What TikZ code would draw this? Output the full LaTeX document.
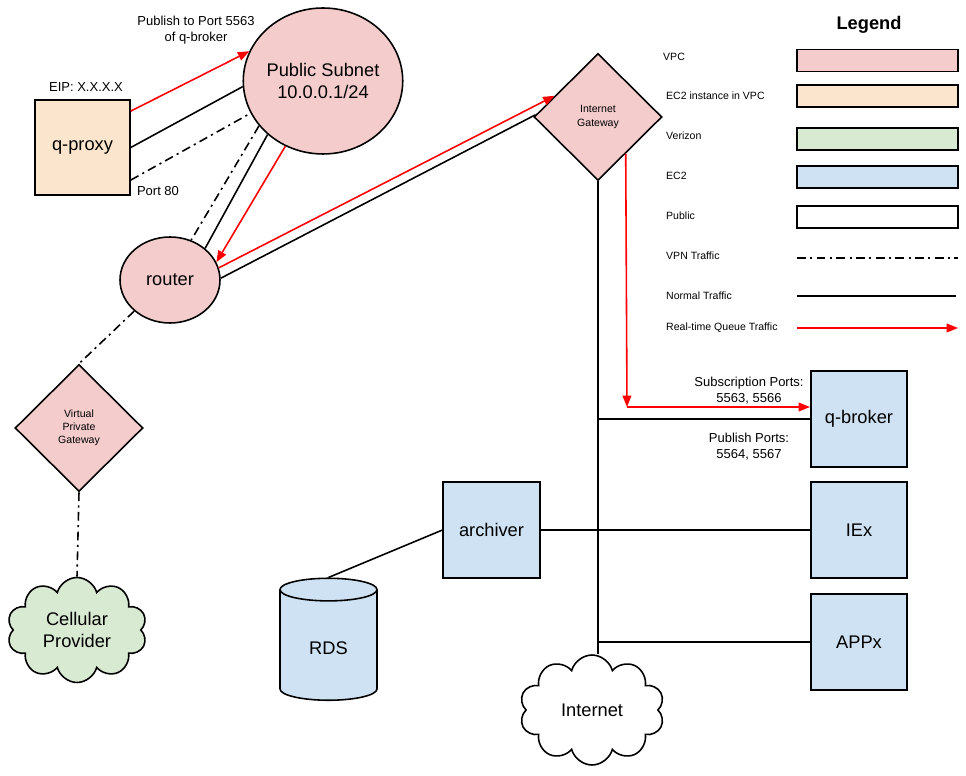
\documentclass[tikz,border=0pt]{standalone}
\usepackage{fontspec}
\setmainfont{Liberation Sans}
\usetikzlibrary{shapes.geometric, shapes.symbols, arrows.meta, positioning, calc}
\definecolor{vpcpink}{RGB}{244,204,204}
\definecolor{ec2vpc}{RGB}{252,229,205}
\definecolor{verizon}{RGB}{217,234,211}
\definecolor{ec2blue}{RGB}{207,226,243}
\definecolor{qred}{RGB}{255,0,0}
\tikzset{
  bigfont/.style={font=\fontsize{10.4}{12.5}\selectfont},
  midfont/.style={font=\fontsize{7.4}{9}\selectfont},
  smallfont/.style={font=\fontsize{6}{7.5}\selectfont},
  ec2box/.style={rectangle, draw, fill=ec2blue, line width=0.9pt,
    minimum width=1.93cm, minimum height=1.92cm, bigfont},
  vpcgate/.style={diamond, draw, fill=vpcpink, line width=0.9pt,
    minimum width=2.56cm, minimum height=2.54cm, inner sep=0pt, align=center, smallfont},
  netcloud/.style={cloud, draw, cloud puffs=10, cloud ignores aspect,
    line width=0.9pt, align=center, bigfont},
  legbox/.style={rectangle, draw, line width=0.9pt, minimum width=3.22cm, minimum height=0.44cm},
  leglabel/.style={anchor=west, smallfont},
  plainline/.style={line width=0.9pt},
  vpnline/.style={line width=0.9pt, dash pattern=on 5pt off 2.5pt on 1.2pt off 2.5pt},
  rtqarrow/.style={line width=0.9pt, draw=qred, -{Triangle[length=6.5pt,width=5pt]}}
}

\begin{document}
\begin{tikzpicture}[x=0.02cm, y=-0.02cm]
  \useasboundingbox (0,0) rectangle (966,776);

  \node[ellipse, draw, fill=vpcpink, line width=0.9pt, minimum width=3.04cm, minimum height=2.92cm,
    inner sep=0pt, align=center, bigfont] (subnet) at (323,81) {Public Subnet\\10.0.0.1/24};
  \node[rectangle, draw, fill=ec2vpc, line width=0.9pt, minimum width=1.9cm, minimum height=1.9cm,
    bigfont] (qproxy) at (82.5,147.5) {q-proxy};
  \node[ellipse, draw, fill=vpcpink, line width=0.9pt, minimum width=2cm, minimum height=1.72cm,
    inner sep=0pt, bigfont] (router) at (170,280) {router};
  \node[vpcgate] (vpg) at (79,428) {Virtual\\Private\\Gateway};
  \node[netcloud, fill=verizon, minimum width=2.8cm, minimum height=2.1cm] (cell) at (77,630) {Cellular\\Provider};
  \node[vpcgate] (igw) at (598,117) {Internet\\Gateway};

  \node[ec2box] (qbroker) at (859,419) {q-broker};
  \node[ec2box] (iex) at (859,530) {IEx};
  \node[ec2box] (appx) at (859,642) {APPx};
  \node[ec2box] (archiver) at (491.5,530) {archiver};
  \node[cylinder, shape border rotate=90, draw, fill=ec2blue, line width=0.9pt, aspect=0.45,
    minimum width=1.94cm, minimum height=2.44cm, bigfont] (rds) at (328.5,648) {RDS};
  \node[netcloud, fill=white, minimum width=2.9cm, minimum height=2.2cm] (inet) at (592,710) {Internet};

  \node[midfont, align=center] (pubtxt) at (196,30) {Publish to Port 5563\\of q-broker};
  \node[midfont] (eip) at (86,87) {EIP: X.X.X.X};
  \node[midfont] (port80) at (158,191) {Port 80};
  \node[midfont, align=center] (subtxt) at (749,391) {Subscription Ports:\\5563, 5566};
  \node[midfont, align=center] (pubports) at (749,447) {Publish Ports:\\5564, 5567};

  \draw[rtqarrow] (qproxy.37) -- (subnet.158);
  \draw[plainline] (qproxy.east) -- (subnet.184);
  \draw[vpnline] (qproxy.-34) -- (subnet.204);
  \draw[vpnline] (subnet.215) -- (router.62);
  \draw[plainline] (subnet.224) -- (router.42);
  \draw[rtqarrow] (subnet.240) -- (router.21);
  \draw[rtqarrow] (router.14) -- (igw.154);
  \draw[plainline] (router.2) -- (igw.178);
  \draw[vpnline] (router.221) -- (vpg.north);
  \draw[vpnline] (vpg.south) -- (cell.north);

  \coordinate (rtbend) at (627,407);
  \draw[rtqarrow] (igw.-53) -- (rtbend);
  \draw[rtqarrow] (rtbend) -- (rtbend -| qbroker.west);
  \draw[plainline] (igw.south) -- (igw.south |- inet.north);
  \draw[plainline] (igw.south |- qbroker.west) -- (qbroker.west);
  \draw[plainline] (archiver.east) -- (iex.west);
  \draw[plainline] (igw.south |- appx.west) -- (appx.west);
  \draw[plainline] (archiver.west) -- (rds.top);

  \node[bigfont, font=\fontsize{10.4}{12.5}\selectfont\bfseries] (legend) at (869,25) {Legend};
  \node[legbox, fill=vpcpink] (lvpc) at (877.5,60.5) {};
  \node[legbox, fill=ec2vpc] (lec2vpc) at (877.5,96) {};
  \node[legbox, fill=verizon] (lverizon) at (877.5,139) {};
  \node[legbox, fill=ec2blue] (lec2) at (877.5,177) {};
  \node[legbox, fill=white] (lpublic) at (877.5,217) {};
  \coordinate (lvpna) at (797,258);
  \coordinate (lvpnb) at (958,258);
  \coordinate (lnorma) at (797,296);
  \coordinate (lnormb) at (956,296);
  \coordinate (lrta) at (797,328);
  \coordinate (lrtb) at (958,328);
  \draw[vpnline] (lvpna) -- (lvpnb);
  \draw[plainline] (lnorma) -- (lnormb);
  \draw[rtqarrow] (lrta) -- (lrtb);

  \node[leglabel] at (657,57) {VPC};
  \node[leglabel] at (660,96) {EC2 instance in VPC};
  \node[leglabel] at (660,136) {Verizon};
  \node[leglabel] at (660,176) {EC2};
  \node[leglabel] at (660,216) {Public};
  \node[leglabel] at (660,256) {VPN Traffic};
  \node[leglabel] at (660,296) {Normal Traffic};
  \node[leglabel] at (660,328) {Real-time Queue Traffic};
\end{tikzpicture}
\end{document}
